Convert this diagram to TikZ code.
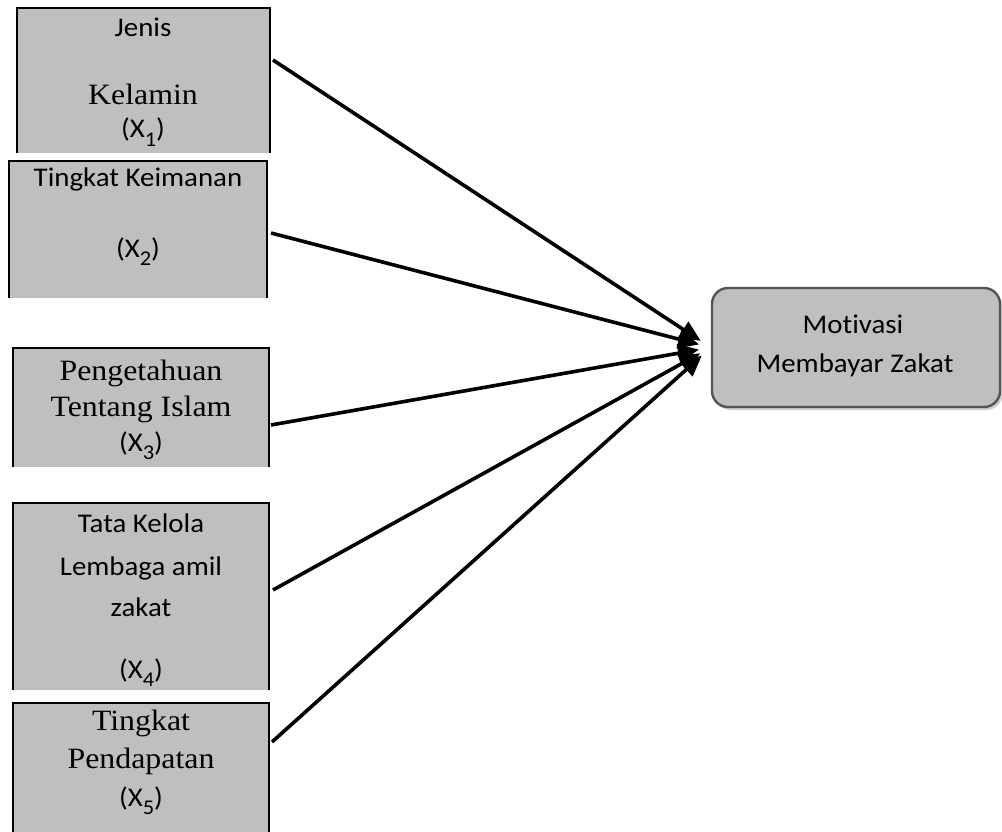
\documentclass[tikz,border=0pt]{standalone}
\usepackage{fontspec}
\usetikzlibrary{arrows.meta,shadows}
\newfontfamily\calf[FakeStretch=1.07,RawFeature={-liga;-clig;-calt}]{Carlito}
\newfontfamily\tmsf[FakeStretch=1.08]{Liberation Serif}
\newcommand\sbs[1]{\raisebox{-0.32em}{\fontsize{21}{21}\selectfont #1}}
\definecolor{boxgray}{RGB}{191,191,191}
\definecolor{rimgray}{RGB}{85,85,85}
\tikzset{
  vbox/.style={fill=boxgray, draw=none, inner sep=0pt, outer sep=0pt, anchor=north west},
  rim/.style={line width=2.8pt, line join=miter},
  ctext/.style={font=\calf\fontsize{27}{31}\selectfont, anchor=base, inner sep=0pt},
  ttext/.style={font=\tmsf\fontsize{29.5}{32}\selectfont, anchor=base, inner sep=0pt},
  conn/.style={line width=3.6pt, -{Triangle[length=21pt,width=18pt]}, shorten >=12pt},
  target/.style={fill=boxgray, draw=rimgray, line width=2.4pt, rounded corners=16pt,
    minimum width=288pt, minimum height=119pt, inner sep=0pt,
    drop shadow={shadow xshift=2.5pt, shadow yshift=-3pt, opacity=0.4}}
}
\begin{document}
\begin{tikzpicture}[x=1pt,y=-1pt]
\useasboundingbox (0,0) rectangle (1002,832);
% boxes
\node[vbox, minimum width=253pt, minimum height=145pt] (b1) at (17,8) {};
\node[vbox, minimum width=258pt, minimum height=137pt] (b2) at (9,161) {};
\node[vbox, minimum width=256pt, minimum height=119pt] (b3) at (13,348) {};
\node[vbox, minimum width=256pt, minimum height=187pt] (b4) at (13,503) {};
\node[vbox, minimum width=256pt, minimum height=129pt] (b5) at (13,703) {};
\foreach \b in {b1,b2,b3,b4,b5}
  \draw[rim] (\b.south west) -- (\b.north west) -- (\b.north east) -- (\b.south east);
% texts
\node[ctext] (t1a) at (143,37) {Jenis};
\node[ttext] (t1b) at (143,105) {Kelamin};
\node[ctext] (t1c) at (143,138) {(X\sbs{1})};
\node[ctext] (t2a) at (138,187) {Tingkat Keimanan};
\node[ctext] (t2b) at (138,257) {(X\sbs{2})};
\node[ttext] (t3a) at (141,380) {Pengetahuan};
\node[ttext] (t3b) at (141,416) {Tentang Islam};
\node[ctext] (t3c) at (141,451) {(X\sbs{3})};
\node[ctext] (t4a) at (141,532) {Tata Kelola};
\node[ctext] (t4b) at (141,575) {Lembaga amil};
\node[ctext] (t4c) at (141,616) {zakat};
\node[ctext] (t4d) at (141,678) {(X\sbs{4})};
\node[ttext] (t5a) at (141,730) {Tingkat};
\node[ttext] (t5b) at (141,768) {Pendapatan};
\node[ctext] (t5c) at (141,806) {(X\sbs{5})};
% target
\node[target] (M) at (856,347.5) {};
\node[ctext] (m1) at (853,333) {Motivasi};
\node[ctext] (m2) at (855,372) {Membayar Zakat};
% connectors
\coordinate (s1) at (273,60);
\coordinate (s2) at (271,233);
\coordinate (s3) at (271,425);
\coordinate (s4) at (273,590);
\coordinate (s5) at (272,742);
\foreach \s in {s1,s2,s3,s4,s5}
  \draw[conn] (\s) -- (M.west);
\end{tikzpicture}
\end{document}
